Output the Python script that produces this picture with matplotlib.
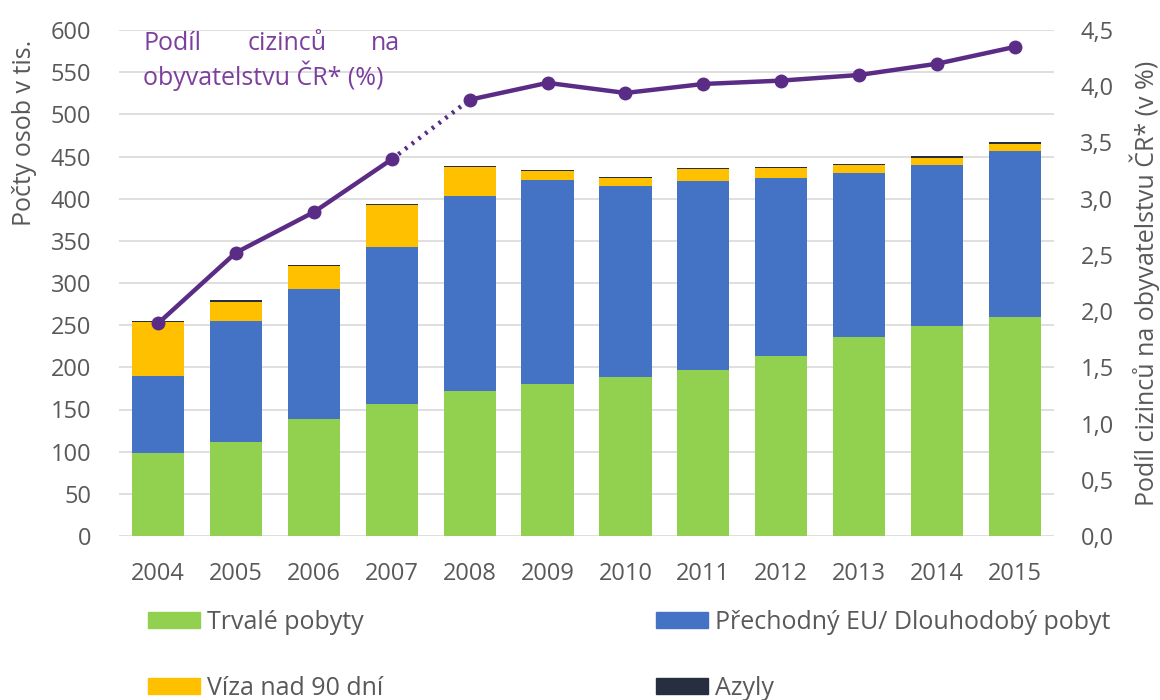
import matplotlib
matplotlib.use("Agg")
import matplotlib.pyplot as plt
import numpy as np
from matplotlib.patches import Patch

plt.rcParams['font.family'] = ['Open Sans', 'DejaVu Sans']

years = ['2004', '2005', '2006', '2007', '2008', '2009', '2010', '2011', '2012', '2013', '2014', '2015']
trvale = [99, 111, 139, 156, 172, 180, 189, 197, 213, 236, 249, 260]
prechodny = [91, 144, 154, 187, 231, 242, 226, 224, 212, 194, 191, 197]
viza = [64, 23, 27, 49, 34, 11, 9, 14, 11, 10, 8, 8]
azyly = [1.5, 1.5, 1.5, 1.5, 1.5, 1.5, 1.5, 1.5, 1.5, 1.5, 2, 2]
podil = [1.89, 2.52, 2.88, 3.35, 3.88, 4.03, 3.94, 4.02, 4.05, 4.10, 4.20, 4.35]

left_ticks = list(range(0, 601, 50))
right_ticks = [0.0, 0.5, 1.0, 1.5, 2.0, 2.5, 3.0, 3.5, 4.0, 4.5]
right_labels = ['0,0', '0,5', '1,0', '1,5', '2,0', '2,5', '3,0', '3,5', '4,0', '4,5']

c_green = '#92D050'
c_blue = '#4472C4'
c_yellow = '#FFC000'
c_dark = '#262E40'
c_line = '#5B2C86'
c_text = '#595959'
c_title = '#7B3F9E'

W, H = 1160, 700
fig = plt.figure(figsize=(11.6, 7.0), dpi=100)
ax = fig.add_axes([119 / W, 1 - 536 / H, (1054 - 119) / W, (536 - 30) / H])
x = np.arange(len(years))
w = 0.67
b1 = np.array(trvale, float)
b2 = b1 + np.array(prechodny, float)
b3 = b2 + np.array(viza, float)
ax.bar(x, trvale, w, color=c_green, zorder=2)
ax.bar(x, prechodny, w, bottom=b1, color=c_blue, zorder=2)
ax.bar(x, viza, w, bottom=b2, color=c_yellow, zorder=2)
ax.bar(x, azyly, w, bottom=b3, color=c_dark, zorder=2)

ax.set_xlim(-0.5, len(years) - 0.5)
ax.set_ylim(0, 600)
ax.set_yticks(left_ticks)
ax.set_xticks(x)
ax.set_xticklabels(years)
ax.grid(axis='y', color='#D9D9D9', linewidth=1.2, zorder=0)
ax.set_axisbelow(True)
for s in ax.spines.values():
    s.set_visible(False)
ax.tick_params(axis='y', length=0, labelsize=17, colors=c_text, pad=20)
ax.tick_params(axis='x', length=0, labelsize=17, colors=c_text, pad=19)

ax2 = ax.twinx()
ax2.set_ylim(0, 4.5)
ax2.set_yticks(right_ticks)
ax2.set_yticklabels(right_labels)
for s in ax2.spines.values():
    s.set_visible(False)
ax2.tick_params(length=0, labelsize=17, colors=c_text, pad=19)

fig.text(25 / W, 1 - 133 / H, 'Počty osob v tis.', rotation=90, ha='center', va='center',
         fontsize=18, color=c_text)
fig.text(1145 / W, 1 - 283 / H, 'Podíl cizinců na obyvatelstvu ČR* (v %)', rotation=90,
         ha='center', va='center', fontsize=18, color=c_text)

p = np.array(podil)
ax2.plot(x[:4], p[:4], color=c_line, lw=3.2, marker='o', ms=9, zorder=3)
ax2.plot(x[3:5], p[3:5], color=c_line, lw=3.2, ls=(0, (0.6, 1.3)), zorder=3)
ax2.plot(x[4:], p[4:], color=c_line, lw=3.2, marker='o', ms=9, zorder=3)

# justified annotation
fs = 18
fig.text(143 / W, 1 - 44 / H, 'Podíl', color=c_title, fontsize=fs, ha='left', va='center')
fig.text(287 / W, 1 - 44 / H, 'cizinců', color=c_title, fontsize=fs, ha='center', va='center')
fig.text(400 / W, 1 - 44 / H, 'na', color=c_title, fontsize=fs, ha='right', va='center')
fig.text(143 / W, 1 - 76 / H, 'obyvatelstvu ČR* (%)', color=c_title, fontsize=fs, ha='left', va='center')

handles = [Patch(color=c_green, label='Trvalé pobyty'),
           Patch(color=c_yellow, label='Víza nad 90 dní'),
           Patch(color=c_blue, label='Přechodný EU/ Dlouhodobý pobyt'),
           Patch(color=c_dark, label='Azyly')]
leg = fig.legend(handles=handles, ncol=2, loc='upper left', bbox_to_anchor=(148 / W, 1 - 610 / H),
                 frameon=False, fontsize=18, handlelength=2.08, handleheight=0.6,
                 handletextpad=0.28, columnspacing=10.9, labelspacing=1.64, borderpad=0,
                 borderaxespad=0, labelcolor=c_text)

fig.savefig('out.png', dpi=100, facecolor='white')
